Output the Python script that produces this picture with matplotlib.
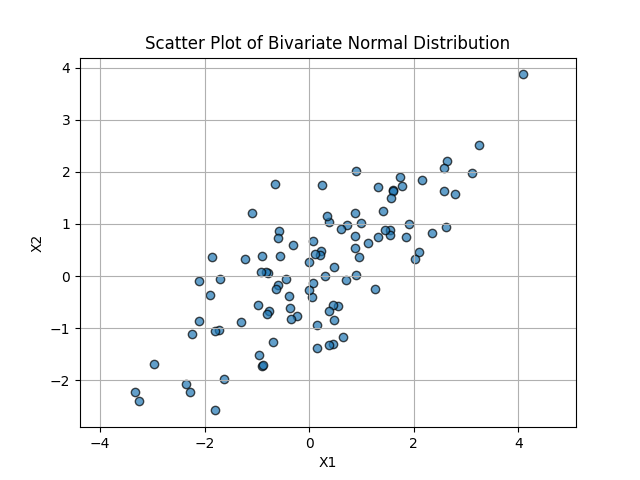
import matplotlib
matplotlib.use('Agg')
import matplotlib.pyplot as plt

# points
x1 = [4.08, 3.25, 3.12, 2.78, 2.63, 2.58, 2.57, 2.62, 2.35, 2.15, 2.1, 2.03, 1.9, 1.85,
      1.78, 1.73, 1.6, 1.6, 1.57, 1.55, 1.55, 1.45, 1.42, 1.32, 1.32, 1.25, 1.12, 1.0,
      0.95, 0.9, 0.88, 0.87, 0.88, 0.9, 0.72, 0.7, 0.6, 0.65, 0.55, 0.48, 0.45, 0.48,
      0.45, 0.38, 0.35, 0.37, 0.37, 0.3, 0.25, 0.22, 0.2, 0.12, 0.08, 0.08, 0.05, 0.15,
      0.15, 0.0, 0.0, -0.23, -0.3, -0.35, -0.38, -0.37, -0.45, -0.55, -0.58, -0.6, -0.6,
      -0.63, -0.65, -0.7, -0.77, -0.8, -0.78, -0.83, -0.9, -0.92, -0.9, -0.88, -0.95,
      -0.97, -1.1, -1.22, -1.3, -1.62, -1.7, -1.72, -1.8, -1.8, -1.85, -1.9, -2.1, -2.1,
      -2.23, -2.27, -2.35, -2.97, -3.25, -3.33]
x2 = [3.87, 2.52, 1.98, 1.58, 2.2, 2.08, 1.63, 0.95, 0.83, 1.85, 0.46, 0.33, 1.0, 0.75,
      1.72, 1.9, 1.65, 1.63, 1.5, 0.88, 0.78, 0.88, 1.25, 1.7, 0.75, -0.25, 0.63, 1.02,
      0.37, 2.02, 1.2, 0.77, 0.53, 0.02, 0.97, -0.08, 0.9, -1.17, -0.58, 0.17, -0.55, -0.85,
      -1.3, 1.03, 1.15, -1.32, -0.68, 0.0, 1.75, 0.48, 0.4, 0.42, 0.67, -0.13, -0.4, -0.93,
      -1.38, 0.27, -0.27, -0.77, 0.6, -0.82, -0.38, -0.62, -0.05, 0.38, 0.87, 0.73, -0.17,
      -0.25, 1.77, -1.27, -0.67, -0.73, 0.06, 0.07, 0.38, 0.08, -1.72, -1.7, -1.52,
      -0.55, 1.2, 0.32, -0.88, -1.97, -0.05, -1.03, -1.05, -2.57, 0.37, -0.37, -0.1, -0.87,
      -1.12, -2.23, -2.07, -1.68, -2.4, -2.22]

fig, ax = plt.subplots(figsize=(6.4, 4.8), dpi=100)
ax.scatter(x1, x2, alpha=0.7, edgecolors='k')
ax.set_xlim(-4.38, 5.1)
ax.set_ylim(-2.9, 4.19)
ax.set_title('Scatter Plot of Bivariate Normal Distribution')
ax.set_xlabel('X1')
ax.set_ylabel('X2')
ax.grid(True)
fig.savefig('out.png')
